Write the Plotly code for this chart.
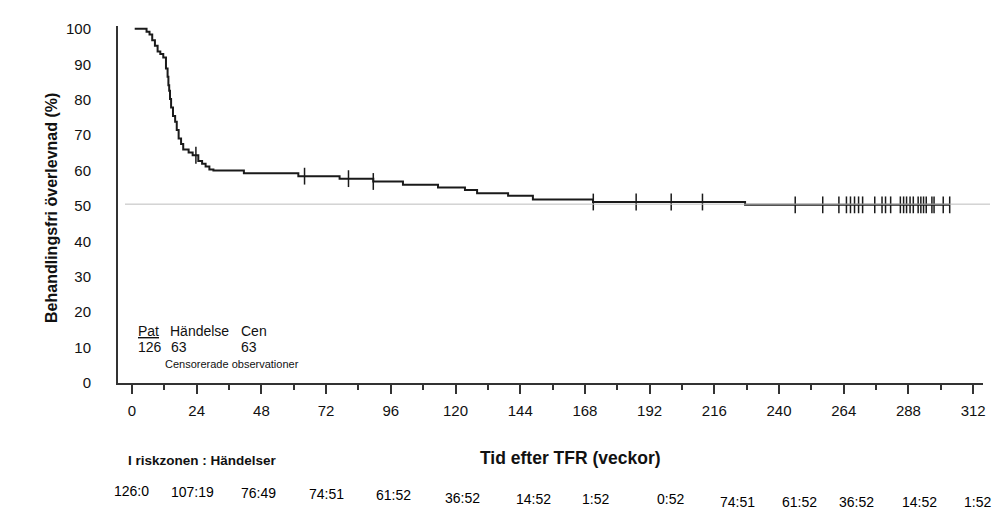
import numpy as np
import plotly.graph_objects as go

# Kaplan-Meier curve (weeks, % free of treatment)
start_week = 1.0
event_weeks = [5.4, 6.5, 7.5, 8.5, 9.5, 10.5, 11.6, 12.6, 13.2, 13.5, 13.8, 14.1,
               14.5, 15.2, 16.0, 16.6, 17.3, 18.2, 19.0, 21.0, 22.5, 24.6, 26.0,
               27.3, 28.7, 30.2, 41.5, 61.7, 77.0, 89.5, 100.5, 113.5, 123.5,
               128.0, 139.5, 148.7, 171.0, 227.4]
survival = [99.2, 98.4, 96.8, 95.2, 93.6, 92.9, 91.9, 88.8, 86.5, 84.1, 82.5, 80.2,
            77.8, 75.4, 73.8, 71.4, 69.0, 67.5, 65.9, 65.1, 64.3, 62.7, 61.9,
            61.1, 60.3, 60.0, 59.2, 58.4, 57.7, 56.9, 56.0, 55.2, 54.5,
            53.6, 52.9, 51.8, 51.1, 50.3]
censor_weeks = [23.7, 64.0, 80.3, 89.5, 171.1, 187.0, 200.0, 211.6, 246.0, 256.2,
                262.2, 265.0, 266.5, 268.0, 269.5, 271.0, 275.5, 278.2, 279.5,
                281.4, 285.0, 286.2, 287.3, 288.6, 289.8, 291.6, 292.6, 293.6,
                294.6, 296.7, 297.5, 300.9, 303.3]
ref_level = 50.5

x_ticks = list(range(0, 313, 24))
y_ticks = list(range(0, 101, 10))

# number at risk : events, one per x tick
risk_labels = ["126:0", "107:19", "76:49", "74:51", "61:52", "36:52", "14:52",
               "1:52", "0:52", "74:51", "61:52", "36:52", "14:52", "1:52"]

table_head = ["Pat", "Händelse", "Cen"]
table_vals = ["126", "63", "63"]

# page offset (body margin) and plot area in window pixels
OFF = 8
L, R, T, B = 118, 983, 20, 383


def px(x):
    return (x - L) / (R - L)


def py(y):
    return (B - y) / (B - T)


# step line
xs = [start_week] + event_weeks + [censor_weeks[-1]]
ys = [100.0] + survival + [survival[-1]]

# survival at each censor time from the step function
idx = np.searchsorted(np.array(event_weeks), np.array(censor_weeks), side="right")
cens_y = [100.0 if i == 0 else survival[i - 1] for i in idx]

fig = go.Figure()
fig.add_trace(go.Scatter(x=xs, y=ys, mode="lines", line=dict(color="#1a1a1a", width=2, shape="hv"),
                         hoverinfo="skip", showlegend=False))
fig.add_trace(go.Scatter(x=censor_weeks, y=cens_y, mode="markers",
                         marker=dict(symbol="line-ns", size=12, line=dict(color="#1a1a1a", width=1.5)),
                         showlegend=False))

fig.add_shape(type="line", xref="paper", yref="y", x0=px(125), x1=px(990), y0=ref_level, y1=ref_level,
              line=dict(color="#bdbdbd", width=1))

base = dict(family="Liberation Sans, Arial, sans-serif", color="#111")
narrow = dict(family="Liberation Sans Narrow, Arial Narrow, Liberation Sans, sans-serif", color="#000")

ann = []
# little table inside the plot
head_x = [136, 168, 239]
for t, x in zip(table_head, head_x):
    txt = "<u>%s</u>" % t if t == "Pat" else t
    ann.append(dict(x=px(x), y=py(330), text=txt, xanchor="left", yanchor="middle",
                    font=dict(size=14, **base)))
for t, x in zip(table_vals, [136, 169, 239]):
    ann.append(dict(x=px(x), y=py(346), text=t, xanchor="left", yanchor="middle",
                    font=dict(size=14, **base)))
ann.append(dict(x=px(163), y=py(364), text="Censorerade observationer", xanchor="left", yanchor="middle",
                font=dict(size=11, **base)))

# axis titles
ann.append(dict(x=px(52), y=py(205), text="<b>Behandlingsfri överlevnad (%)</b>", textangle=-90,
                xanchor="center", yanchor="middle", font=dict(size=16, **base)))
ann.append(dict(x=px(570), y=py(459), text="<b>Tid efter TFR (veckor)</b>",
                xanchor="center", yanchor="middle", font=dict(size=17.5, **base)))
ann.append(dict(x=px(202), y=py(462), text="<b>I riskzonen : Händelser</b>",
                xanchor="center", yanchor="middle", font=dict(size=13.5, **base)))

# risk row
risk_shift = [-1, -4, -3, 0, 3, 7, 13, 11, 21, 23, 20, 13, 11, 4]
risk_py = [493, 494, 495, 496, 497, 500, 501, 501, 501, 504, 504, 504, 504, 504]
for t, xv, sh, yy in zip(risk_labels, x_ticks, risk_shift, risk_py):
    ann.append(dict(x=xv, xref="x", y=py(yy), yref="paper", text=t, xshift=sh, showarrow=False,
                    xanchor="center", yanchor="middle", font=dict(size=14, **narrow)))

for a in ann:
    a.setdefault("xref", "paper")
    a.setdefault("yref", "paper")
    a["showarrow"] = False
fig.update_layout(annotations=ann)

fig.update_layout(
    width=1005 - OFF, height=518 - OFF,
    margin=dict(l=L - OFF, r=1005 - R, t=T - OFF, b=518 - B),
    paper_bgcolor="white", plot_bgcolor="white",
    xaxis=dict(range=[(L - 132) / 2.696, (R - 132) / 2.696], tickvals=x_ticks, showgrid=False, zeroline=False,
               showline=True, linecolor="#333", linewidth=2, ticks="outside", ticklen=9, tickwidth=1.5,
               tickcolor="#333", ticklabelstandoff=4, tickfont=dict(size=15, **base),
               minor=dict(dtick=12, ticks="outside", ticklen=5, tickwidth=1.5, tickcolor="#333")),
    yaxis=dict(range=[0, 100.8], tickvals=y_ticks, showgrid=False, zeroline=False,
               showline=True, linecolor="#333", linewidth=2, ticks="",
               ticklabelstandoff=22, tickfont=dict(size=15, **base)),
)

fig.write_html("out.html")
